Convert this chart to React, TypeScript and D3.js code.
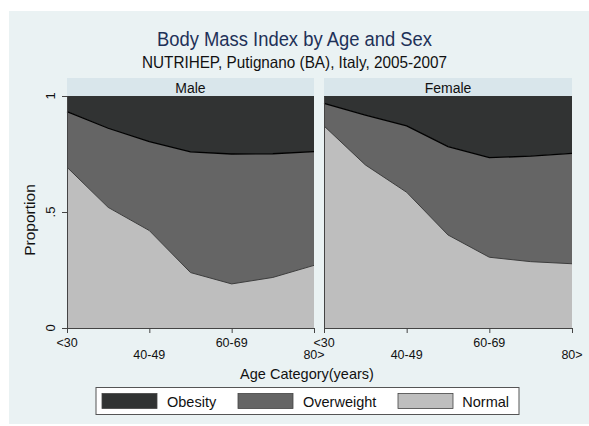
import { useEffect, useRef } from "react";
import * as d3 from "d3";

const ageGroups = ["<30", "30-39", "40-49", "50-59", "60-69", "70-79", "80>"];
const tickAges = ["<30", "40-49", "60-69", "80>"];
const yTicks = [0, 0.5, 1];
const yTickLabels = ["0", ".5", "1"];

const maleNormal = [0.693, 0.52, 0.42, 0.239, 0.19, 0.218, 0.27];
const maleOverweight = [0.24, 0.341, 0.383, 0.52, 0.56, 0.533, 0.49];
const maleObesity = [0.067, 0.139, 0.197, 0.241, 0.25, 0.249, 0.24];

const femaleNormal = [0.871, 0.703, 0.585, 0.401, 0.305, 0.286, 0.277];
const femaleOverweight = [0.097, 0.215, 0.286, 0.381, 0.429, 0.455, 0.476];
const femaleObesity = [0.032, 0.082, 0.129, 0.218, 0.266, 0.259, 0.247];

const panels = [
  { name: "Male", normal: maleNormal, overweight: maleOverweight, obesity: maleObesity },
  { name: "Female", normal: femaleNormal, overweight: femaleOverweight, obesity: femaleObesity },
];

const keys = ["normal", "overweight", "obesity"];
const colors: Record<string, string> = {
  obesity: "#313333",
  overweight: "#656565",
  normal: "#bebebe",
};
const legendItems = [
  { key: "obesity", label: "Obesity" },
  { key: "overweight", label: "Overweight" },
  { key: "normal", label: "Normal" },
];

export default function App() {
  const svgRef = useRef<SVGSVGElement | null>(null);

  useEffect(() => {
    if (!svgRef.current) return;
    const svg = d3.select(svgRef.current);
    svg.selectAll("*").remove();
    const font = "'Liberation Sans', Arial, sans-serif";

    // background
    svg.append("rect").attr("x", 9).attr("y", 11).attr("width", 580).attr("height", 413).attr("fill", "#eaf2f3");

    // titles
    svg.append("text").attr("x", 294.5).attr("y", 45.5).attr("text-anchor", "middle")
      .attr("font-family", font).attr("font-size", 20.5).attr("fill", "#1e3158")
      .attr("textLength", 275).attr("lengthAdjust", "spacingAndGlyphs")
      .text("Body Mass Index by Age and Sex");
    svg.append("text").attr("x", 294.5).attr("y", 67.5).attr("text-anchor", "middle")
      .attr("font-family", font).attr("font-size", 16.5).attr("fill", "#111")
      .attr("textLength", 305).attr("lengthAdjust", "spacingAndGlyphs")
      .text("NUTRIHEP, Putignano (BA), Italy, 2005-2007");

    const y = d3.scaleLinear().domain([0, 1]).range([328, 96]);
    const panelX = [[67, 314], [324, 572]];

    panels.forEach((p, pi) => {
      const [x0, x1] = panelX[pi];
      const x = d3.scalePoint<string>().domain(ageGroups).range([x0, x1]);
      const rows = ageGroups.map((a, i) => ({
        age: a,
        normal: p.normal[i],
        overweight: p.overweight[i],
        obesity: p.obesity[i],
      }));
      const series = d3.stack<any>().keys(keys)(rows);

      // strip
      svg.append("rect").attr("x", x0).attr("y", 78).attr("width", x1 - x0).attr("height", 18).attr("fill", "#d9e6eb");
      svg.append("text").attr("x", (x0 + x1) / 2).attr("y", 92.5).attr("text-anchor", "middle")
        .attr("font-family", font).attr("font-size", 14).attr("fill", "#111").text(p.name);

      const area = d3.area<any>()
        .x((d) => x(d.data.age)!)
        .y0((d) => y(d[0]))
        .y1((d) => y(d[1]));
      const g = svg.append("g");
      series.forEach((s) => {
        g.append("path").attr("d", area(s)!).attr("fill", colors[s.key]);
      });
      // boundary lines
      const line = d3.line<any>().x((d) => x(d.data.age)!).y((d) => y(d[1]));
      g.append("path").attr("d", line(series[0])!).attr("fill", "none").attr("stroke", "#3c3c3c").attr("stroke-width", 1);
      g.append("path").attr("d", line(series[1])!).attr("fill", "none").attr("stroke", "#000").attr("stroke-width", 1.3);

      // x axis
      const xAxis = svg.append("g").attr("transform", "translate(0,328)")
        .call(d3.axisBottom(x).tickValues(tickAges).tickSize(5).tickSizeOuter(0).tickFormat(() => ""));
      xAxis.select(".domain").attr("stroke", "#444");
      xAxis.selectAll(".tick line").attr("stroke", "#444");
      tickAges.forEach((t, i) => {
        svg.append("text").attr("x", x(t)!).attr("y", i % 2 === 0 ? 346.5 : 358.5)
          .attr("text-anchor", "middle").attr("font-family", font).attr("font-size", 12.5)
          .attr("fill", "#111").text(t);
      });

      // y axis
      const yAxis = svg.append("g").attr("transform", `translate(${x0},0)`)
        .call(d3.axisLeft(y).tickValues(pi === 0 ? yTicks : []).tickSize(pi === 0 ? 5 : 0).tickSizeOuter(0).tickFormat(() => ""));
      yAxis.select(".domain").attr("stroke", "#444");
      yAxis.selectAll(".tick line").attr("stroke", "#444");
    });

    // y tick labels (rotated)
    yTicks.forEach((t, i) => {
      svg.append("text").attr("transform", `translate(54.5,${y(t)}) rotate(-90)`)
        .attr("text-anchor", "middle").attr("font-family", font).attr("font-size", 13)
        .attr("fill", "#111").text(yTickLabels[i]);
    });

    svg.append("text").attr("transform", "translate(34.5,220) rotate(-90)")
      .attr("text-anchor", "middle").attr("font-family", font).attr("font-size", 15.5)
      .attr("fill", "#111").text("Proportion");
    svg.append("text").attr("x", 307).attr("y", 378.5).attr("text-anchor", "middle")
      .attr("font-family", font).attr("font-size", 14.5).attr("fill", "#111").text("Age Category(years)");

    // legend
    svg.append("rect").attr("x", 96).attr("y", 387.5).attr("width", 423).attr("height", 27)
      .attr("fill", "#fff").attr("stroke", "#555").attr("stroke-width", 1);
    const keyX = [102, 238, 398];
    legendItems.forEach((it, i) => {
      svg.append("rect").attr("x", keyX[i]).attr("y", 393.5).attr("width", 55).attr("height", 15)
        .attr("fill", colors[it.key]).attr("stroke", "#444").attr("stroke-width", 0.8);
      const tx = i === 2 ? 509 : keyX[i] + 65;
      svg.append("text").attr("x", tx).attr("y", 406.5).attr("text-anchor", i === 2 ? "end" : "start")
        .attr("font-family", font).attr("font-size", 14.5).attr("fill", "#111").text(it.label);
    });
  }, []);

  return (
    <svg ref={svgRef} width={589} height={426} style={{ position: "absolute", left: 0, top: 0 }} />
  );
}
